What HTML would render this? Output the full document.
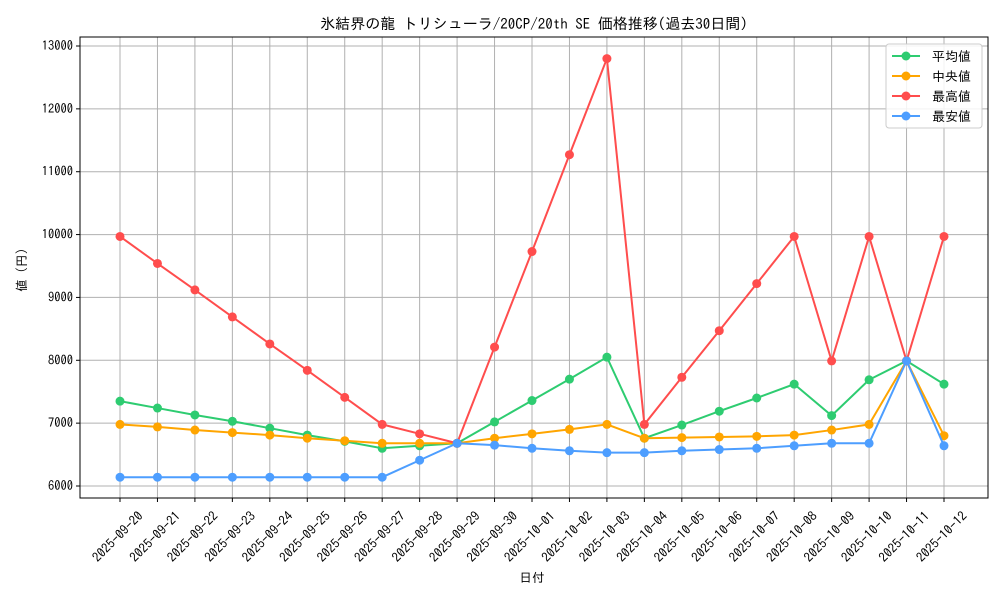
<!DOCTYPE html>
<html><head><meta charset="utf-8"><style>
body{margin:0;background:#fff;font-family:"IPAGothic","Liberation Sans","Noto Sans CJK JP",sans-serif;}
svg text{font-family:"IPAGothic","Liberation Sans","Noto Sans CJK JP",sans-serif;}
</style></head><body>
<svg id="c" width="1000" height="600" xmlns="http://www.w3.org/2000/svg"></svg>
<script>
const categories=["2025-09-20","2025-09-21","2025-09-22","2025-09-23","2025-09-24","2025-09-25","2025-09-26","2025-09-27","2025-09-28","2025-09-29","2025-09-30","2025-10-01","2025-10-02","2025-10-03","2025-10-04","2025-10-05","2025-10-06","2025-10-07","2025-10-08","2025-10-09","2025-10-10","2025-10-11","2025-10-12"];
const avgValues=[7350,7240,7130,7030,6920,6810,6710,6600,6640,6680,7020,7360,7700,8050,6760,6970,7190,7400,7620,7120,7690,7990,7620];
const medianValues=[6980,6940,6890,6850,6810,6760,6720,6680,6680,6680,6760,6830,6900,6980,6760,6770,6780,6790,6810,6890,6980,7990,6800];
const maxValues=[9970,9540,9120,8690,8260,7840,7410,6980,6830,6680,8210,9730,11270,12800,6980,7730,8470,9220,9970,7990,9970,7990,9970];
const minValues=[6140,6140,6140,6140,6140,6140,6140,6140,6410,6680,6650,6600,6560,6530,6530,6560,6580,6600,6640,6680,6680,7990,6640];
const yTicks=[6000,7000,8000,9000,10000,11000,12000,13000];
const svg=document.getElementById('c');const NS='http://www.w3.org/2000/svg';
const L=80,R=988,T=37,B=498;
const x=i=>120+i*(944-120)/(categories.length-1);
const y=v=>486-(v-6000)*(440/7000);
function mk(tag,a,p){const e=document.createElementNS(NS,tag);for(const k in a)e.setAttribute(k,a[k]);(p||svg).appendChild(e);return e;}
let e=mk('rect',{x:0,y:0,width:1000,height:600,fill:'#fff'});


yTicks.forEach(t=>{mk('line',{x1:L,x2:R,y1:y(t),y2:y(t),stroke:'#b0b0b0','stroke-width':1});mk('line',{x1:L-4,x2:L,y1:y(t),y2:y(t),stroke:'#000'});
const tx=mk('text',{x:L-7,y:y(t)+4,'text-anchor':'end','font-size':12.5});tx.textContent=t;

});
categories.forEach((c,i)=>{mk('line',{x1:x(i),x2:x(i),y1:T,y2:B,stroke:'#b0b0b0','stroke-width':1});mk('line',{x1:x(i),x2:x(i),y1:B,y2:B+4,stroke:'#000'});
const cx=x(i)-2,cy=537;
const tx=mk('text',{x:cx,y:cy+4,'text-anchor':'middle','font-size':13,transform:`rotate(-45 ${cx} ${cy})`});tx.textContent=c;

});
mk('rect',{x:L,y:T,width:R-L,height:B-T,fill:'none',stroke:'#000','stroke-width':1});
const series=[[avgValues,'#2ecc71','平均値','avg-series'],[medianValues,'#ffa500','中央値','median-series'],[maxValues,'#ff4d4d','最高値','max-series'],[minValues,'#4d9eff','最安値','min-series']];
series.forEach(([vals,col,lab,nm])=>{const g=mk('g',{});


mk('polyline',{points:vals.map((v,i)=>x(i)+','+y(v)).join(' '),fill:'none',stroke:col,'stroke-width':2},g);
vals.forEach((v,i)=>mk('circle',{cx:x(i),cy:y(v),r:4.5,fill:col},g));});
const lg=mk('g',{});


mk('rect',{x:886,y:44,width:96,height:84,rx:3,fill:'#fff','fill-opacity':0.85,stroke:'#ccc'},lg);
series.forEach(([v,col,lab],k)=>{const yy=56+k*20;mk('line',{x1:892,x2:920,y1:yy,y2:yy,stroke:col,'stroke-width':2},lg);mk('circle',{cx:906,cy:yy,r:4.5,fill:col},lg);
const t=mk('text',{x:932,y:yy+5,'font-size':13},lg);t.textContent=lab;

});
let t=mk('text',{x:534,y:29,'text-anchor':'middle','font-size':15});t.textContent='氷結界の龍 トリシューラ/20CP/20th SE 価格推移(過去30日間)';


t=mk('text',{x:532,y:582,'text-anchor':'middle','font-size':12.5});t.textContent='日付';


t=mk('text',{x:26,y:270,'text-anchor':'middle','font-size':12.5,transform:'rotate(-90 26 270)'});t.textContent='値 (円)';


</script>
</body></html>
